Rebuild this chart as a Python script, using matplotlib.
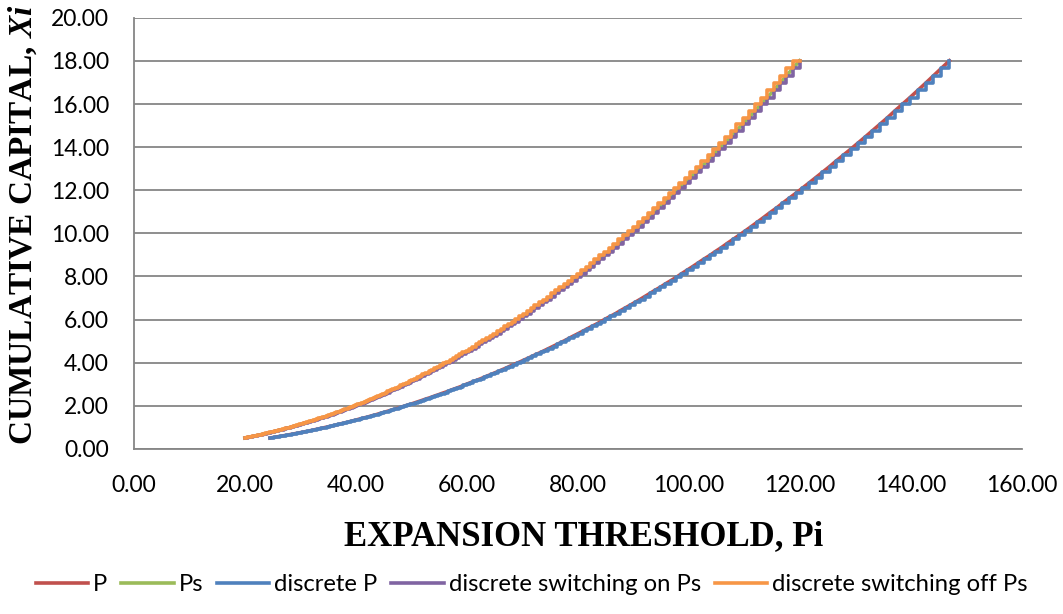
import matplotlib
matplotlib.use("Agg")
import matplotlib.pyplot as plt

# Cumulative capital Xi at each discrete step (y values)
capital = [
    0.501, 0.511, 0.521, 0.532, 0.542, 0.553, 0.564, 0.576, 0.587, 0.599,
    0.611, 0.623, 0.636, 0.649, 0.662, 0.675, 0.689, 0.702, 0.716, 0.731,
    0.746, 0.761, 0.776, 0.791, 0.807, 0.824, 0.840, 0.857, 0.874, 0.892,
    0.909, 0.928, 0.947, 0.966, 0.985, 1.005, 1.025,
    1.046, 1.067, 1.088, 1.110, 1.133, 1.155, 1.179, 1.202, 1.227, 1.251,
    1.276, 1.302, 1.328, 1.355, 1.382, 1.410, 1.438, 1.467, 1.497, 1.527,
    1.557, 1.589, 1.621, 1.653, 1.686, 1.720, 1.755, 1.790, 1.826, 1.863,
    1.900, 1.938, 1.977, 2.017, 2.058, 2.099, 2.141, 2.184, 2.228, 2.273,
    2.319, 2.365, 2.413, 2.461, 2.511, 2.561, 2.613, 2.665, 2.719, 2.774,
    2.829, 2.886, 2.944, 3.003, 3.064, 3.125, 3.188, 3.252, 3.318, 3.384,
    3.452, 3.522, 3.592, 3.665, 3.738, 3.813, 3.890, 3.968, 4.048, 4.129,
    4.212, 4.297, 4.383, 4.472, 4.561, 4.653, 4.747, 4.842, 4.939, 5.039,
    5.140, 5.243, 5.349, 5.456, 5.566, 5.678, 5.792, 5.908, 6.027, 6.148,
    6.272, 6.398, 6.526, 6.658, 6.791, 6.928, 7.067, 7.209, 7.354, 7.502,
    7.653, 7.807, 7.963, 8.124, 8.287, 8.453, 8.623, 8.797, 8.973, 9.154,
    9.338, 9.525, 9.717, 9.912, 10.111, 10.315, 10.522, 10.734, 10.949, 11.169,
    11.394, 11.623, 11.856, 12.095, 12.338, 12.586, 12.839, 13.097, 13.360, 13.629,
    13.903, 14.182, 14.467, 14.758, 15.055, 15.357, 15.666, 15.981, 16.302, 16.630,
    16.964, 17.305, 17.653, 18.008]

# Expansion threshold P at each step (x values)
p_threshold = [
    24.52, 24.76, 25.01, 25.26, 25.51, 25.77, 26.03, 26.29, 26.55, 26.81,
    27.08, 27.35, 27.63, 27.90, 28.18, 28.46, 28.75, 29.04, 29.33, 29.62,
    29.92, 30.21, 30.52, 30.82, 31.13, 31.44, 31.76, 32.07, 32.39, 32.72,
    33.05, 33.38, 33.71, 34.05, 34.39, 34.73, 35.08, 35.43, 35.78, 36.14,
    36.50, 36.87, 37.24, 37.61, 37.98, 38.36, 38.75,
    39.1, 39.5, 39.9, 40.3, 40.7, 41.1, 41.5, 42.0, 42.4, 42.8,
    43.2, 43.7, 44.1, 44.5, 45.0, 45.4, 45.9, 46.3, 46.8, 47.3,
    47.8, 48.2, 48.7, 49.2, 49.7, 50.2, 50.7, 51.2, 51.7, 52.2,
    52.7, 53.3, 53.8, 54.3, 54.9, 55.4, 56.0, 56.6, 57.1, 57.7,
    58.3, 58.9, 59.4, 60.0, 60.6, 61.2, 61.9, 62.5, 63.1, 63.7,
    64.4, 65.0, 65.7, 66.3, 67.0, 67.6, 68.3, 69.0, 69.7, 70.4,
    71.1, 71.8, 72.5, 73.3, 74.0, 74.7, 75.5, 76.2, 77.0, 77.8,
    78.5, 79.3, 80.1, 80.9, 81.7, 82.5, 83.4, 84.2, 85.0, 85.9,
    86.8, 87.6, 88.5, 89.4, 90.3, 91.2, 92.1, 93.0, 93.9, 94.9,
    95.8, 96.8, 97.8, 98.7, 99.7, 100.7, 101.7, 102.7, 103.8, 104.8,
    105.9, 106.9, 108.0, 109.1, 110.2, 111.3, 112.4, 113.5, 114.6, 115.8,
    116.9, 118.1, 119.3, 120.5, 121.7, 122.9, 124.1, 125.4, 126.6, 127.9,
    129.2, 130.5, 131.8, 133.1, 134.4, 135.8, 137.1, 138.5, 139.9, 141.3,
    142.7, 144.1, 145.5, 147.0]

# Expansion threshold Ps at each step (x values)
ps_threshold = [
    20.0, 20.2, 20.4, 20.6, 20.8, 21.0, 21.2, 21.5, 21.7, 21.9,
    22.1, 22.3, 22.6, 22.8, 23.0, 23.2, 23.5, 23.7, 23.9, 24.2,
    24.4, 24.7, 24.9, 25.2, 25.4, 25.7, 25.9, 26.2, 26.4, 26.7,
    27.0, 27.2, 27.5, 27.8, 28.1, 28.4, 28.6, 28.9, 29.2, 29.5,
    29.8, 30.1, 30.4, 30.7, 31.0, 31.3, 31.6, 31.9, 32.3, 32.6,
    32.9, 33.2, 33.6, 33.9, 34.3, 34.6, 34.9, 35.3, 35.6, 36.0,
    36.4, 36.7, 37.1, 37.5, 37.8, 38.2, 38.6, 39.0, 39.4, 39.8,
    40.2, 40.6, 41.0, 41.4, 41.8, 42.2, 42.6, 43.1, 43.5, 43.9,
    44.4, 44.8, 45.3, 45.7, 46.2, 46.6, 47.1, 47.6, 48.0, 48.5,
    49.0, 49.5, 50.0, 50.5, 51.0, 51.5, 52.0, 52.5, 53.1, 53.6,
    54.1, 54.7, 55.2, 55.8, 56.3, 56.9, 57.5, 58.0, 58.6, 59.2,
    59.8, 60.4, 61.0, 61.6, 62.2, 62.8, 63.5, 64.1, 64.8, 65.4,
    66.1, 66.7, 67.4, 68.1, 68.7, 69.4, 70.1, 70.8, 71.5, 72.2,
    73.0, 73.7, 74.4, 75.2, 75.9, 76.7, 77.5, 78.2, 79.0, 79.8,
    80.6, 81.4, 82.2, 83.0, 83.9, 84.7, 85.6, 86.4, 87.3, 88.1,
    89.0, 89.9, 90.8, 91.7, 92.6, 93.6, 94.5, 95.5, 96.4, 97.4,
    98.3, 99.3, 100.3, 101.3, 102.3, 103.4, 104.4, 105.4, 106.5, 107.6,
    108.6, 109.7, 110.8, 111.9, 113.0, 114.2, 115.3, 116.5, 117.6, 118.8,
    120.0]

series_labels = ["P", "Ps", "discrete P", "discrete switching on Ps",
                 "discrete switching off Ps"]
x_ticks = [0, 20, 40, 60, 80, 100, 120, 140, 160]
y_ticks = [0, 2, 4, 6, 8, 10, 12, 14, 16, 18, 20]

colors = ["#C0504D", "#9BBB59", "#4F81BD", "#8064A2", "#F79646"]

plt.rcParams['mathtext.fontset'] = 'custom'
plt.rcParams['mathtext.it'] = 'Liberation Serif:italic:bold'
plt.rcParams['mathtext.rm'] = 'Liberation Serif:bold'

fig = plt.figure(figsize=(10.63, 6.14), dpi=100)
ax = fig.add_axes([0.126, 0.269, 0.835, 0.702])

lw = 2.6
ax.plot(p_threshold, capital, color=colors[0], lw=lw, label=series_labels[0], zorder=3)
ax.plot(ps_threshold, capital, color=colors[1], lw=lw, label=series_labels[1], zorder=3)
ax.step(p_threshold, capital, where="post", color=colors[2], lw=lw,
        label=series_labels[2], zorder=4)
ax.step(ps_threshold, capital, where="post", color=colors[3], lw=lw,
        label=series_labels[3], zorder=4)
ax.step(ps_threshold, capital, where="pre", color=colors[4], lw=lw,
        label=series_labels[4], zorder=5)

ax.set_xlim(0, 160)
ax.set_ylim(0, 20)
ax.set_xticks(x_ticks)
ax.set_yticks(y_ticks)
ax.set_xticklabels([f"{v:.2f}" for v in x_ticks], family="Lato", fontsize=16.5)
ax.set_yticklabels([f"{v:.2f}" for v in y_ticks], family="Lato", fontsize=16.5)
ax.tick_params(axis="y", length=0, pad=18)
ax.tick_params(axis="x", length=0, pad=19)
ax.grid(axis="y", color="#868686", lw=1.3)
ax.set_axisbelow(True)
for s in ["top", "right"]:
    ax.spines[s].set_visible(False)
for s in ["left", "bottom"]:
    ax.spines[s].set_color("#868686")
    ax.spines[s].set_linewidth(1.3)

fig.text(0.549, 0.1254, "EXPANSION THRESHOLD, Pi", family="Liberation Serif",
         weight="bold", fontsize=25, ha="center", va="center")
fig.text(0.0215, 0.6336, "CUMULATIVE CAPITAL, $Xi$", family="Liberation Serif",
         weight="bold", fontsize=24, ha="center", va="center", rotation=90)

fig.legend(loc="center", bbox_to_anchor=(0.5, 0.0475), ncol=5, frameon=False,
           prop={"family": "Lato", "size": 17.2}, handlelength=2.2, handletextpad=0.2,
           columnspacing=0.58)

fig.savefig("out.png", dpi=100)
